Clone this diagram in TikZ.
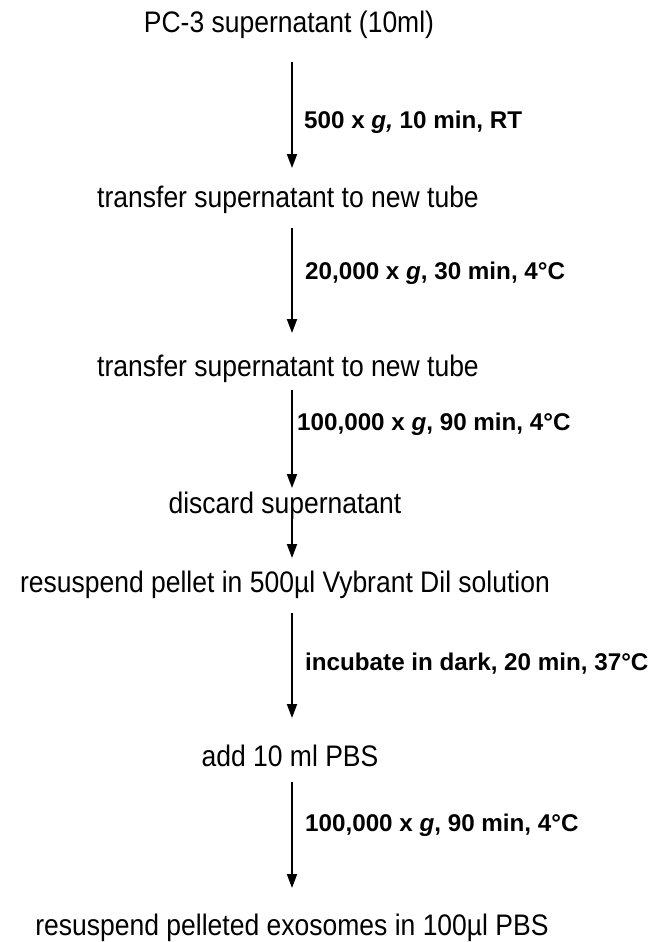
\documentclass[tikz,border=0pt]{standalone}
\usepackage{fontspec}
\usepackage{graphicx}
\setmainfont{Liberation Sans}
\usetikzlibrary{arrows.meta}
\newcommand{\tallText}[1]{\scalebox{1}[1.12]{#1}}
\begin{document}
\begin{tikzpicture}[x=1pt,y=-1pt,
  stepnode/.style={font=\fontsize{26.5}{30}\selectfont, inner sep=0pt, anchor=base},
  lab/.style={font=\fontsize{24.2}{28}\selectfont\bfseries, anchor=base west, inner sep=0pt},
  arr/.style={line width=2pt, -{Triangle[length=14pt,width=10pt]}}]
\useasboundingbox (0,0) rectangle (651,942);
% steps
\node[stepnode] (t1) at (289,33) {\tallText{PC-3 supernatant (10ml)}};
\node[stepnode] (t2) at (288,207) {\tallText{transfer supernatant to new tube}};
\node[stepnode] (t3) at (288,376) {\tallText{transfer supernatant to new tube}};
\node[stepnode] (t4) at (285,513) {\tallText{discard supernatant}};
\node[stepnode] (t5) at (285,592) {\tallText{resuspend pellet in 500µl Vybrant Dil solution}};
\node[stepnode] (t6) at (290,766) {\tallText{add 10 ml PBS}};
\node[stepnode] (t7) at (292,935) {\tallText{resuspend pelleted exosomes in 100µl PBS}};
% arrow ends
\coordinate (a1s) at (292,62);  \coordinate (a1e) at (292,168);
\coordinate (a2s) at (292,228); \coordinate (a2e) at (292,333);
\coordinate (a3s) at (292,390); \coordinate (a3e) at (292,488);
\coordinate (a4s) at (292,515); \coordinate (a4e) at (292,558);
\coordinate (a5s) at (292,613); \coordinate (a5e) at (292,718);
\coordinate (a6s) at (292,782); \coordinate (a6e) at (292,888);
\draw[arr] (a1s) -- (a1e);
\draw[arr] (a2s) -- (a2e);
\draw[arr] (a3s) -- (a3e);
\draw[arr] (a4s) -- (a4e);
\draw[arr] (a5s) -- (a5e);
\draw[arr] (a6s) -- (a6e);
% labels
\node[lab] (l1) at (304,128) {500 x \textit{g,} 10 min, RT};
\node[lab] (l2) at (305,279) {20,000 x \textit{g}, 30 min, 4°C};
\node[lab] (l3) at (297,430) {100,000 x \textit{g}, 90 min, 4°C};
\node[lab] (l5) at (305,670) {incubate in dark, 20 min, 37°C};
\node[lab] (l6) at (305,831) {100,000 x \textit{g}, 90 min, 4°C};
\end{tikzpicture}
\end{document}
